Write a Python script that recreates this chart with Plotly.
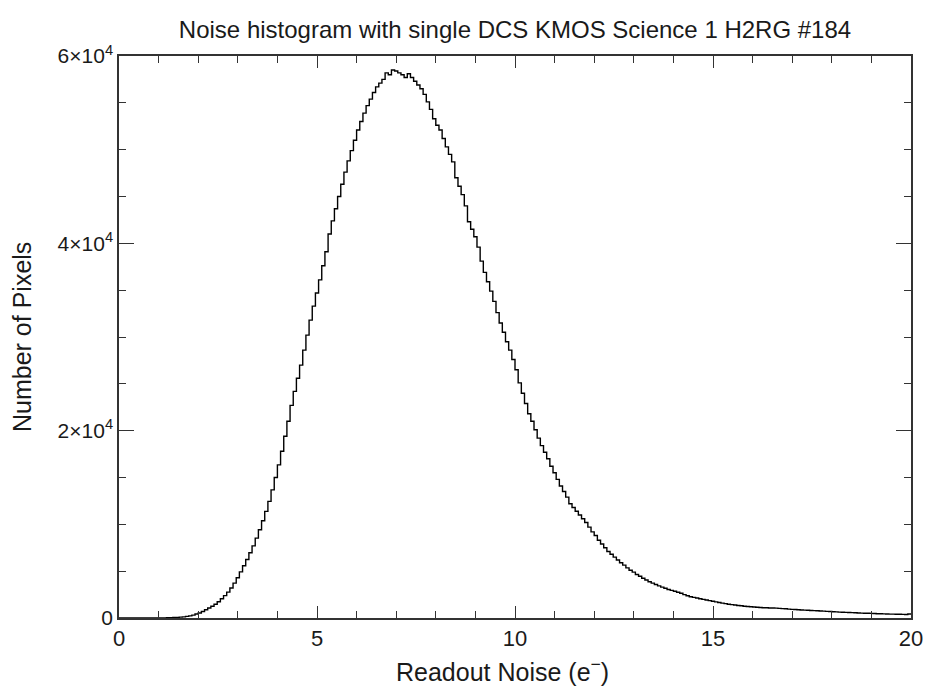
import numpy as np
import plotly.graph_objects as go

# Histogram definition (bin width in e-)
bin_start = 0.0
bin_width = 0.08

# Counts per bin
counts = [
    0, 0, 0, 0, 0, 0, 1, 1, 2, 3,
    4, 6, 9, 13, 18, 26, 36, 50, 66, 90,
    125, 170, 230, 310, 420, 540, 700, 880, 1060, 1250,
    1470, 1740, 2050, 2390, 2760, 3200, 3720, 4300, 4920, 5580,
    6250, 6960, 7700, 8530, 9420, 10380, 11380, 12450, 13680, 15000,
    16350, 17800, 19400, 21000, 22700, 24200, 25600, 27000, 28600, 30200,
    31800, 33300, 34700, 36100, 37600, 39100, 41000, 42400, 43700, 45000,
    46300, 47600, 48800, 49900, 51000, 52100, 53000, 53900, 54700, 55400,
    56100, 56700, 57100, 57500, 58200, 58000, 58500, 58400, 58200, 58000,
    57700, 58100, 57700, 57300, 56900, 56500, 55900, 55100, 54300, 53300,
    52600, 52100, 51200, 50300, 49500, 48700, 47000, 46100, 45200, 44000,
    42300, 41500, 40700, 39600, 38100, 36900, 35900, 34900, 33800, 32600,
    31500, 30500, 29500, 28600, 27600, 26500, 25100, 24000, 22900, 21800,
    21000, 20100, 19200, 18400, 17700, 17000, 16200, 15500, 14800, 14100,
    13500, 12900, 12200, 11800, 11400, 11000, 10600, 10200, 9700, 9200,
    8800, 8300, 7900, 7500, 7100, 6800, 6500, 6200, 5900, 5650,
    5350, 5100, 4900, 4650, 4450, 4250, 4050, 3870, 3720, 3570,
    3430, 3300, 3170, 3050, 2950, 2850, 2750, 2650, 2500, 2370,
    2270, 2200, 2130, 2060, 1990, 1920, 1850, 1790, 1720, 1650,
    1590, 1530, 1470, 1430, 1380, 1340, 1300, 1260, 1230, 1200,
    1170, 1150, 1120, 1100, 1090, 1070, 1060, 1050, 1030, 1000,
    980, 950, 920, 900, 880, 860, 840, 820, 800, 790,
    770, 750, 730, 710, 690, 670, 650, 630, 620, 600,
    585, 570, 555, 540, 525, 515, 500, 490, 475, 460,
    450, 440, 425, 415, 410, 400, 395, 390, 380, 420,
]

x_tick_vals = [0, 5, 10, 15, 20]
x_tick_text = ["0", "5", "10", "15", "20"]
y_tick_vals = [0, 20000, 40000, 60000]
y_tick_text = ["0", "2×10<sup>4</sup>", "4×10<sup>4</sup>", "6×10<sup>4</sup>"]

title_text = "Noise histogram with single DCS KMOS Science 1 H2RG #184"
x_title = "Readout Noise (e<sup>−</sup>)"
y_title = "Number of Pixels"

edges = bin_start + bin_width * np.arange(len(counts) + 1)
y_step = list(counts) + [counts[-1]]

FONT = "Liberation Sans, Helvetica, Arial, sans-serif"
INK = "#1a1a1a"

W, H = 928, 688
L, R, T, B = 119, 17, 56, 70
PW, PH = W - L - R, H - T - B

fig = go.Figure()
fig.add_trace(go.Scatter(
    x=edges, y=y_step, mode="lines", line_shape="hv",
    line=dict(color="black", width=1.4), showlegend=False,
    hoverinfo="skip",
))

fig.update_layout(
    width=W, height=H,
    margin=dict(l=L, r=R, t=T, b=B, autoexpand=False),
    paper_bgcolor="white", plot_bgcolor="white",
    font=dict(family=FONT, color=INK, size=22),
    title=dict(text=title_text, x=(L + W - R) / 2 / W, xref="container", xanchor="center",
               yref="container", y=1 - 30 / H, yanchor="middle",
               font=dict(family=FONT, size=24, color=INK)),
    annotations=[
        dict(text=x_title, xref="paper", yref="paper",
             x=(502 - L) / PW, y=-(670 - (H - B)) / PH,
             xanchor="center", yanchor="middle", showarrow=False,
             font=dict(family=FONT, size=25, color=INK)),
        dict(text=y_title, xref="paper", yref="paper",
             x=(22 - L) / PW, y=(H - B - 337) / PH,
             xanchor="center", yanchor="middle", textangle=-90, showarrow=False,
             font=dict(family=FONT, size=25, color=INK)),
    ],
)

fig.update_xaxes(
    range=[0, 20], tickvals=x_tick_vals, ticktext=x_tick_text,
    ticks="inside", ticklen=12, tickwidth=1.2, tickcolor="#333",
    minor=dict(dtick=1, ticks="inside", ticklen=7, tickwidth=1.2, tickcolor="#333"),
    showline=True, linecolor="#333", linewidth=1.5, mirror="ticks",
    showgrid=False, zeroline=False,
    tickfont=dict(size=22),
)
fig.update_yaxes(
    range=[0, 60000], tickvals=y_tick_vals, ticktext=y_tick_text,
    ticks="inside", ticklen=15, tickwidth=1.2, tickcolor="#333",
    minor=dict(dtick=5000, ticks="inside", ticklen=7, tickwidth=1.2, tickcolor="#333"),
    showline=True, linecolor="#333", linewidth=1.5, mirror="ticks",
    showgrid=False, zeroline=False,
    tickfont=dict(size=21),
)

fig.write_html(
    "out.html",
    config={"displayModeBar": False},
    post_script="document.body.style.margin='0px';document.documentElement.style.overflow='hidden';",
)
